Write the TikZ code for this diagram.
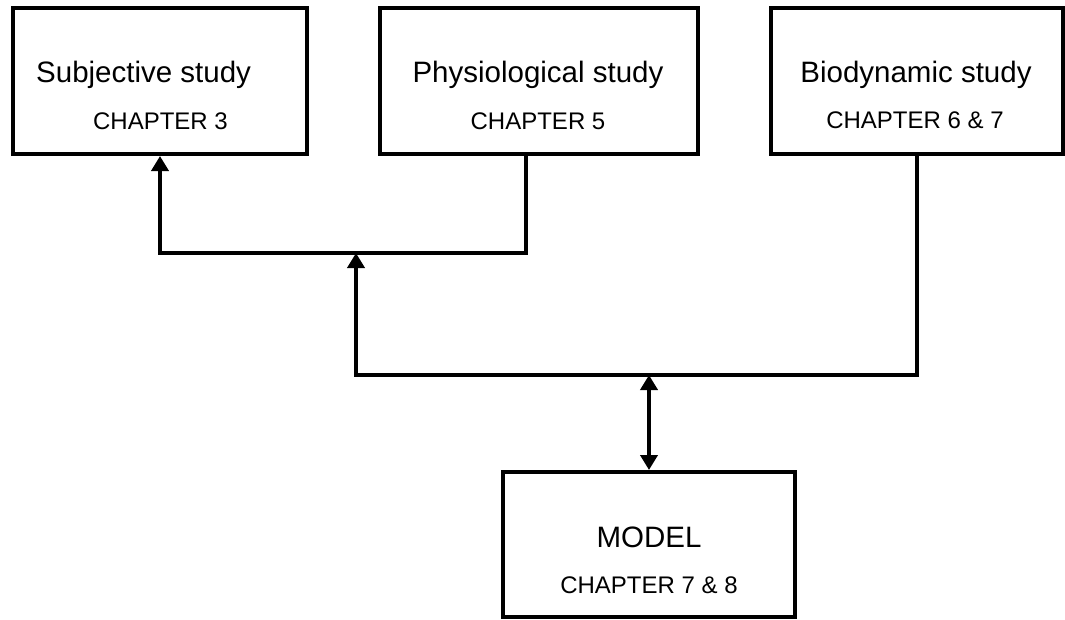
\documentclass[tikz,border=0pt]{standalone}
\usepackage{fontspec}
\setmainfont{Liberation Sans}
\usetikzlibrary{arrows.meta}
\begin{document}
\begin{tikzpicture}[x=1pt,y=-1pt,
  box/.style={draw=black,line width=4pt,minimum height=146pt,inner sep=0pt},
  titletext/.style={font=\fontsize{29.5}{34}\selectfont,inner sep=0pt,anchor=base},
  chaptext/.style={font=\fontsize{24}{28}\selectfont,inner sep=0pt,anchor=base},
  tip/.style={Triangle[length=15pt,width=17pt]},
  conn/.style={line width=4.5pt,-{Triangle[length=15pt,width=17pt]}},
  dconn/.style={line width=4.5pt,{Triangle[length=15pt,width=17pt]}-{Triangle[length=15pt,width=17pt]}}]
\useasboundingbox (0,0) rectangle (1065,619);
% boxes
\node[box,minimum width=294pt] (subj) at (160,81) {};
\node[box,minimum width=318pt] (phys) at (539,81) {};
\node[box,minimum width=292pt] (bio) at (917,81) {};
\node[box,minimum width=292pt,minimum height=145pt] (model) at (649,544.5) {};
% texts
\node[titletext,anchor=base west] (subjt) at (36,82) {Subjective study};
\node[chaptext] (subjc) at (160.5,129) {CHAPTER 3};
\node[titletext] (physt) at (538,82) {Physiological study};
\node[chaptext] (physc) at (538,129) {CHAPTER 5};
\node[titletext] (biot) at (916,82) {Biodynamic study};
\node[chaptext] (bioc) at (915,128) {CHAPTER 6 \& 7};
\node[titletext] (modelt) at (649,547) {MODEL};
\node[chaptext] (modelc) at (649,593) {CHAPTER 7 \& 8};
% connector points
\coordinate (physout) at (526,154);
\coordinate (upperbus) at (356,253);
\coordinate (lowerbus) at (649,375);
% connectors
\draw[conn] (physout) |- (upperbus) -| (subj.south);
\draw[conn] (bio.south) |- (upperbus |- lowerbus) -- (upperbus);
\draw[dconn] (lowerbus) -- (model.north);
\end{tikzpicture}
\end{document}
